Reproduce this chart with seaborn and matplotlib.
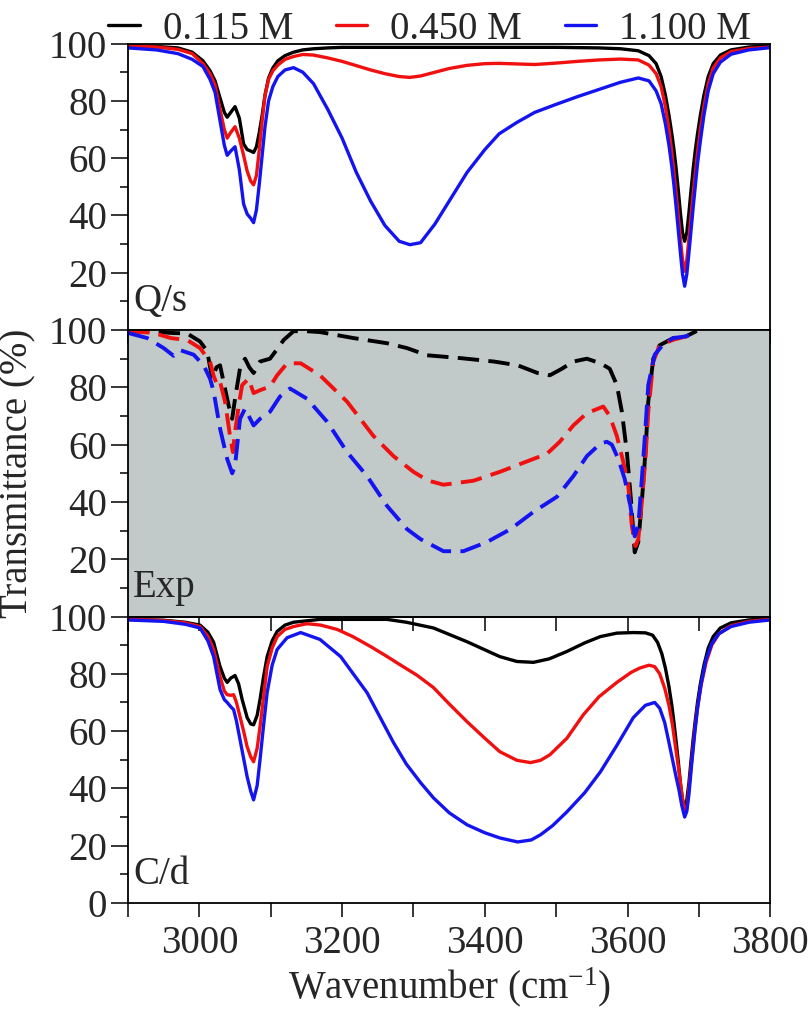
import numpy as np
import pandas as pd
import seaborn as sns
import matplotlib.pyplot as plt
from matplotlib.ticker import MultipleLocator, FixedLocator

# ---- Q/s (simulated) ----
qs_wn = [2900, 2940, 2970, 2990, 3005, 3015, 3022, 3029, 3035, 3039, 3044, 3050, 3056, 3062,
         3067, 3072, 3076, 3080, 3084, 3088, 3092, 3097, 3103, 3110, 3120, 3132, 3145, 3160,
         3180, 3200, 3220, 3240, 3260, 3280, 3295, 3310, 3330, 3350, 3375, 3400, 3420, 3445,
         3470, 3500, 3530, 3560, 3590, 3615, 3630, 3640, 3647, 3653, 3658, 3662, 3665, 3668,
         3671, 3674, 3677, 3680, 3683, 3686, 3689, 3692, 3695, 3698, 3702, 3707, 3713, 3720,
         3730, 3745, 3770, 3800]
qs_low = [99.3, 99.0, 98.5, 97.0, 94.0, 90.5, 87.0, 81.0, 76.0, 74.3, 76.0, 78.0, 74.0, 65.0,
          63.0, 62.5, 62.0, 64.0, 69.0, 75.0, 82.0, 88.0, 91.5, 94.0, 95.8, 97.0, 97.8, 98.2,
          98.5, 98.7, 98.7, 98.7, 98.7, 98.7, 98.7, 98.7, 98.7, 98.7, 98.7, 98.7, 98.7, 98.7,
          98.7, 98.7, 98.6, 98.5, 98.2, 97.5, 95.8, 93.0, 88.5, 82.0, 75.0, 68.5, 63.0, 56.5,
          49.0, 41.0, 34.0, 31.0, 34.0, 41.0, 49.0, 56.5, 63.0, 68.5, 75.0, 82.0, 88.5, 93.0,
          96.0, 97.8, 98.8, 99.3]
qs_mid = [99.2, 98.8, 98.0, 96.5, 93.0, 89.5, 85.5, 77.0, 70.0, 67.0, 69.0, 71.0, 67.0, 61.0,
          55.5, 52.0, 50.7, 54.0, 63.0, 73.0, 82.0, 87.5, 90.5, 92.5, 94.5, 95.5, 96.2, 96.0,
          95.0, 93.8, 92.3, 90.8, 89.5, 88.5, 88.2, 88.7, 90.0, 91.3, 92.4, 93.0, 93.1, 92.9,
          92.7, 93.2, 93.8, 94.3, 94.6, 94.3, 92.5, 89.5, 85.0, 78.0, 70.0, 62.0, 55.0, 48.0,
          40.0, 32.0, 24.5, 20.5, 24.5, 32.0, 40.0, 48.0, 55.0, 62.0, 70.0, 78.0, 86.0, 91.5,
          95.0, 97.2, 98.3, 98.8]
qs_high = [98.5, 97.8, 96.5, 94.5, 92.0, 87.5, 83.0, 73.0, 64.5, 61.0, 62.5, 64.0, 56.0, 44.0,
           40.5, 39.0, 37.5, 42.0, 51.0, 61.0, 71.0, 80.0, 85.0, 88.5, 90.8, 91.6, 90.0, 86.0,
           77.0, 67.0, 55.0, 45.0, 36.5, 31.0, 29.8, 30.5, 37.0, 45.0, 55.0, 63.0, 68.5, 72.5,
           76.0, 78.8, 81.5, 84.0, 86.5, 88.0, 87.0, 83.5, 79.0, 72.0, 64.5, 57.0, 50.5, 43.0,
           35.0, 27.0, 19.5, 15.3, 19.5, 27.0, 35.0, 43.0, 50.5, 58.0, 66.0, 75.0, 83.5, 89.5,
           93.5, 96.3, 97.8, 98.6]

# ---- Exp (measured) ----
exp_low_wn = [2900, 2935, 2960, 2983, 3001, 3011, 3018, 3024, 3029, 3033, 3041, 3046, 3050, 3057,
              3064, 3070, 3076, 3085, 3099, 3108, 3118, 3132, 3150, 3169, 3216, 3263, 3291, 3319,
              3366, 3413, 3446, 3474, 3491, 3508, 3524, 3543, 3562, 3575, 3585, 3592, 3599, 3605,
              3610, 3615, 3620, 3625, 3629, 3636, 3645, 3664, 3682, 3697]
exp_low = [99.6, 99.5, 99.0, 98.8, 96.0, 92.6, 83.0, 87.0, 87.7, 83.0, 73.7, 69.0, 76.0, 86.7,
           90.0, 87.0, 85.0, 89.0, 90.0, 93.0, 96.5, 99.6, 99.6, 99.3, 97.2, 95.4, 93.7, 91.2,
           90.2, 89.0, 87.7, 85.0, 84.2, 86.5, 89.0, 90.0, 88.4, 86.5, 80.8, 71.5, 57.4, 40.0,
           22.4, 26.0, 40.0, 57.4, 75.0, 90.0, 94.7, 97.2, 97.8, 99.7]
exp_mid_wn = [2900, 2936, 2960, 2983, 3001, 3015, 3020, 3025, 3029, 3036, 3043, 3047, 3050, 3056,
              3060, 3069, 3076, 3085, 3099, 3109, 3123, 3142, 3169, 3207, 3244, 3272, 3300, 3320,
              3342, 3384, 3421, 3468, 3487, 3505, 3524, 3543, 3566, 3575, 3585, 3594, 3601, 3606,
              3611, 3615, 3620, 3625, 3629, 3636, 3645, 3664, 3682, 3697]
exp_mid = [99.6, 99.0, 97.2, 96.5, 93.7, 89.0, 84.0, 80.8, 82.0, 75.0, 63.0, 57.4, 64.5, 75.0,
           80.8, 83.0, 78.0, 79.0, 80.3, 84.2, 88.4, 88.4, 84.2, 75.0, 63.0, 56.0, 50.5, 47.5,
           46.0, 47.4, 50.5, 55.0, 56.8, 61.0, 66.7, 71.0, 73.3, 70.0, 63.0, 54.0, 45.6, 31.6,
           24.6, 27.0, 40.0, 55.0, 71.5, 89.0, 94.7, 96.6, 97.8, 99.0]
exp_high_wn = [2900, 2927, 2950, 2964, 2973, 2992, 3006, 3015, 3020, 3029, 3039, 3046, 3050, 3057,
               3064, 3076, 3085, 3099, 3113, 3127, 3151, 3179, 3207, 3235, 3263, 3291, 3310, 3342,
               3370, 3403, 3436, 3468, 3501, 3524, 3543, 3562, 3571, 3578, 3587, 3596, 3604, 3610,
               3615, 3620, 3625, 3629, 3638, 3650, 3664, 3682, 3697]
exp_high = [99.0, 97.2, 93.7, 91.0, 93.0, 91.4, 87.7, 83.0, 78.6, 65.6, 55.0, 50.0, 52.6, 69.0,
            72.6, 66.7, 69.0, 71.5, 76.8, 79.6, 76.0, 68.0, 57.4, 49.0, 38.6, 30.5, 27.0, 22.8,
            22.8, 26.0, 30.5, 36.5, 41.8, 49.0, 56.0, 60.4, 61.0, 60.0, 55.0, 48.0, 38.6, 28.0,
            31.6, 48.0, 65.6, 80.8, 91.4, 95.0, 97.2, 97.8, 99.5]

# ---- C/d (simulated) ----
cd_low_wn = [2900, 2950, 2980, 3001, 3012, 3020, 3029, 3035, 3039, 3044, 3050, 3055, 3060, 3067,
             3072, 3076, 3081, 3085, 3090, 3095, 3102, 3109, 3120, 3132, 3169, 3263, 3290, 3328,
             3375, 3421, 3445, 3468, 3490, 3515, 3540, 3562, 3585, 3608, 3625, 3635, 3642, 3648,
             3653, 3658, 3662, 3665, 3668, 3671, 3674, 3677, 3680, 3683, 3686, 3689, 3692, 3695,
             3698, 3702, 3707, 3713, 3720, 3730, 3745, 3770, 3800]
cd_low = [99.0, 98.7, 98.0, 97.0, 94.5, 91.0, 82.5, 78.5, 77.0, 78.5, 79.4, 76.5, 71.0, 64.7,
          62.5, 62.2, 65.5, 71.0, 79.0, 86.0, 91.5, 94.8, 97.0, 98.0, 99.0, 99.0, 98.0, 96.0,
          91.2, 86.0, 84.3, 84.0, 85.2, 87.8, 90.8, 93.0, 94.2, 94.4, 94.3, 93.5, 91.0, 87.0,
          82.0, 75.5, 69.0, 63.0, 56.5, 49.5, 42.0, 36.0, 33.0, 36.0, 42.0, 50.0, 57.5, 64.0,
          70.0, 76.5, 83.0, 89.0, 93.0, 96.0, 97.8, 98.8, 99.3]
cd_mid_wn = [2900, 2950, 2980, 3001, 3012, 3020, 3029, 3035, 3039, 3044, 3048, 3052, 3057, 3062,
             3067, 3072, 3076, 3081, 3085, 3090, 3095, 3102, 3109, 3120, 3132, 3151, 3170, 3193,
             3215, 3240, 3260, 3281, 3305, 3328, 3350, 3375, 3400, 3421, 3445, 3464, 3478, 3491,
             3515, 3538, 3560, 3585, 3605, 3617, 3630, 3638, 3645, 3652, 3658, 3663, 3668, 3672,
             3676, 3680, 3683, 3686, 3690, 3694, 3698, 3703, 3710, 3718, 3728, 3745, 3770, 3800]
cd_mid = [99.0, 98.6, 97.8, 96.5, 93.0, 88.5, 79.0, 74.0, 72.7, 72.5, 72.7, 70.0, 65.0, 60.0,
          54.5, 51.0, 49.3, 54.0, 61.5, 72.0, 82.5, 89.0, 93.0, 95.5, 96.5, 97.5, 97.0, 95.5,
          93.0, 89.5, 86.5, 83.2, 79.5, 75.2, 69.5, 63.3, 57.5, 52.8, 49.8, 49.0, 49.8, 51.7,
          57.5, 65.7, 72.0, 77.0, 80.5, 82.0, 83.0, 82.5, 80.0, 75.0, 69.0, 62.0, 53.0, 46.0,
          38.0, 31.5, 33.0, 40.0, 50.0, 60.0, 68.0, 76.0, 84.0, 90.0, 94.0, 96.8, 98.3, 99.0]
cd_high_wn = [2900, 2950, 2980, 3001, 3012, 3020, 3029, 3035, 3039, 3044, 3048, 3052, 3057, 3062,
              3067, 3072, 3076, 3081, 3085, 3090, 3095, 3102, 3109, 3123, 3142, 3169, 3198, 3235,
              3272, 3290, 3310, 3328, 3350, 3375, 3400, 3421, 3446, 3465, 3478, 3495, 3515, 3540,
              3562, 3585, 3608, 3625, 3638, 3645, 3652, 3658, 3663, 3668, 3672, 3676, 3680, 3683,
              3686, 3690, 3694, 3698, 3703, 3710, 3718, 3728, 3745, 3770, 3800]
cd_high = [98.8, 98.3, 97.3, 96.0, 91.5, 86.0, 74.5, 71.0, 70.0, 68.5, 67.5, 63.5, 57.0, 50.5,
           44.0, 39.0, 36.0, 41.0, 50.0, 62.0, 73.4, 83.0, 88.5, 92.6, 94.4, 92.0, 86.0, 73.4,
           56.0, 48.5, 42.0, 36.7, 31.5, 27.3, 24.5, 22.7, 21.3, 22.0, 23.8, 27.0, 31.8, 38.5,
           45.8, 55.0, 64.7, 69.0, 70.0, 68.0, 63.0, 56.0, 50.0, 44.0, 39.5, 34.0, 30.0, 32.0,
           38.0, 49.0, 59.0, 68.0, 76.5, 85.0, 90.5, 94.0, 96.5, 98.0, 98.8]

labels = ["0.115 M", "0.450 M", "1.100 M"]
colors = ["#000000", "#f01010", "#1414f0"]

sns.set_style("ticks")
plt.rcParams['font.family'] = ['Liberation Serif', 'DejaVu Serif']
plt.rcParams['mathtext.fontset'] = 'custom'
plt.rcParams['mathtext.rm'] = 'Liberation Serif'
plt.rcParams['mathtext.it'] = 'Liberation Serif:italic'
FS = 28

fig, axes = plt.subplots(3, 1, sharex=True, figsize=(8.1, 10.14), dpi=100)
fig.subplots_adjust(left=0.158, right=0.951, top=0.957, bottom=0.1095, hspace=0)

panels = [
    ("Q/s", [(qs_wn, qs_low), (qs_wn, qs_mid), (qs_wn, qs_high)], "-", 2.4),
    ("Exp", [(exp_low_wn, exp_low), (exp_mid_wn, exp_mid), (exp_high_wn, exp_high)],
     (0, (5.5, 2.4)), 2.8),
    ("C/d", [(cd_low_wn, cd_low), (cd_mid_wn, cd_mid), (cd_high_wn, cd_high)], "-", 2.4),
]

for i, (ax, (name, series, ls, lw)) in enumerate(zip(axes, panels)):
    for (wn, t), lab, col in zip(series, labels, colors):
        df = pd.DataFrame({"wn": wn, "T": t})
        sns.lineplot(data=df, x="wn", y="T", ax=ax, color=col, linewidth=lw,
                     linestyle=ls, label=lab if i == 0 else None, legend=False)
    ax.set_xlim(2900, 3800)
    ax.set_ylim(0, 100)
    ax.set_xlabel("")
    ax.set_ylabel("")
    ticks = [0, 20, 40, 60, 80, 100] if i == 2 else [20, 40, 60, 80, 100]
    ax.yaxis.set_major_locator(FixedLocator(ticks))
    ax.yaxis.set_minor_locator(FixedLocator([10, 30, 50, 70, 90]))
    ax.xaxis.set_major_locator(MultipleLocator(200))
    ax.xaxis.set_minor_locator(FixedLocator([2900, 3100, 3300, 3500, 3700]))
    ax.tick_params(axis='y', which='major', direction='out', length=12, width=1.3,
                   labelsize=FS, pad=3)
    ax.tick_params(axis='y', which='minor', direction='out', length=6, width=1.3)
    ax.tick_params(axis='x', which='both', direction='out', length=10, width=1.3,
                   labelsize=FS, pad=6)
    for sp in ax.spines.values():
        sp.set_visible(True)
        sp.set_linewidth(1.3)
        sp.set_color("black")
    ax.text(0.008, 0.035, name, transform=ax.transAxes, fontsize=FS,
            ha='left', va='bottom')

axes[1].set_facecolor("#c2c9c9")
axes[2].set_facecolor("none")

axes[2].set_xlabel("Wavenumber (cm$^{\\mathrm{-1}}$)", fontsize=FS, labelpad=2)
fig.text(0.022, 0.533, "Transmittance (%)", rotation=90, fontsize=FS,
         ha='center', va='center')

axes[0].legend(loc='lower center', bbox_to_anchor=(0.47, 0.985), ncol=3, frameon=False,
               fontsize=FS, handlelength=0.8, handletextpad=0.6, columnspacing=1.1,
               borderaxespad=0, borderpad=0)

fig.savefig("out.png", dpi=100)
